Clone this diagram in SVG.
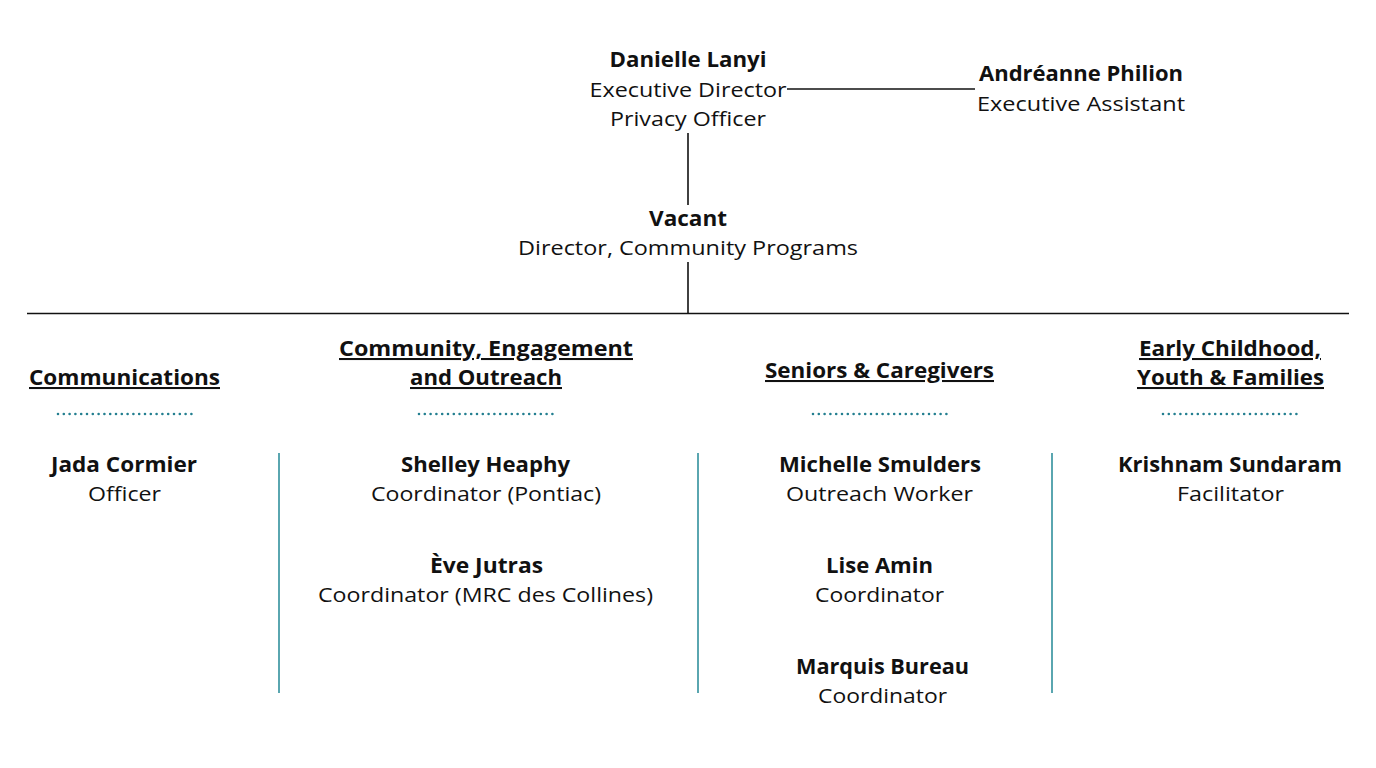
<svg xmlns="http://www.w3.org/2000/svg" width="1376" height="768" viewBox="0 0 1376 768">
<style>
text{font-family:"Open Sans","Noto Sans","Liberation Sans",sans-serif;font-size:20.5px;fill:#111;text-anchor:middle}
.b{font-weight:700}
.u{font-weight:700;text-decoration:underline}
.ln{stroke:#111;stroke-width:1.6;fill:none}
.dot{stroke:#237f90;stroke-width:2.6;stroke-linecap:round;stroke-dasharray:0 5.8;fill:none}
.sep{stroke:#5aa6b0;stroke-width:2;fill:none}
</style>
<rect width="1376" height="768" fill="#fff"/>
<g id="connectors">
<line class="ln" x1="787" y1="89" x2="975" y2="89"/>
<line class="ln" x1="688" y1="133" x2="688" y2="205"/>
<line class="ln" x1="688" y1="262" x2="688" y2="313"/>
<line class="ln" x1="27" y1="313.5" x2="1349" y2="313.5"/>
<line class="sep" x1="279" y1="453" x2="279" y2="693"/>
<line class="sep" x1="698" y1="453" x2="698" y2="693"/>
<line class="sep" x1="1052" y1="453" x2="1052" y2="693"/>
<line class="dot" x1="58" y1="414" x2="192" y2="414"/>
<line class="dot" x1="419" y1="414" x2="553" y2="414"/>
<line class="dot" x1="813" y1="414" x2="947" y2="414"/>
<line class="dot" x1="1163" y1="414" x2="1297" y2="414"/>
</g>
<g id="danielle">
<text class="b" x="688" y="67" textLength="157" lengthAdjust="spacingAndGlyphs">Danielle Lanyi</text>
<text x="688" y="97" textLength="197" lengthAdjust="spacingAndGlyphs">Executive Director</text>
<text x="688" y="126" textLength="156" lengthAdjust="spacingAndGlyphs">Privacy Officer</text>
</g>
<g id="andreanne">
<text class="b" x="1081" y="81" textLength="204" lengthAdjust="spacingAndGlyphs">Andréanne Philion</text>
<text x="1081" y="111" textLength="208" lengthAdjust="spacingAndGlyphs">Executive Assistant</text>
</g>
<g id="vacant">
<text class="b" x="688" y="226" textLength="78" lengthAdjust="spacingAndGlyphs">Vacant</text>
<text x="688" y="255" textLength="340" lengthAdjust="spacingAndGlyphs">Director, Community Programs</text>
</g>
<g id="communications">
<text class="u" x="124.5" y="385" textLength="191" lengthAdjust="spacingAndGlyphs">Communications</text>
</g>
<g id="jada">
<text class="b" x="124" y="472" textLength="146" lengthAdjust="spacingAndGlyphs">Jada Cormier</text>
<text x="124.5" y="501" textLength="73" lengthAdjust="spacingAndGlyphs">Officer</text>
</g>
<g id="community">
<text class="u" x="486" y="356" textLength="294" lengthAdjust="spacingAndGlyphs">Community, Engagement </text>
<text class="u" x="486" y="385" textLength="152" lengthAdjust="spacingAndGlyphs">and Outreach</text>
</g>
<g id="shelley">
<text class="b" x="485.5" y="472" textLength="169" lengthAdjust="spacingAndGlyphs">Shelley Heaphy</text>
<text x="486" y="501" textLength="230" lengthAdjust="spacingAndGlyphs">Coordinator (Pontiac)</text>
</g>
<g id="eve">
<text class="b" x="486.5" y="573" textLength="113" lengthAdjust="spacingAndGlyphs">Ève Jutras</text>
<text x="485.5" y="602" textLength="335" lengthAdjust="spacingAndGlyphs">Coordinator (MRC des Collines)</text>
</g>
<g id="seniors">
<text class="u" x="879.5" y="378" textLength="229" lengthAdjust="spacingAndGlyphs">Seniors &amp; Caregivers</text>
</g>
<g id="michelle">
<text class="b" x="880" y="472" textLength="202" lengthAdjust="spacingAndGlyphs">Michelle Smulders</text>
<text x="879.5" y="501" textLength="187" lengthAdjust="spacingAndGlyphs">Outreach Worker</text>
</g>
<g id="lise">
<text class="b" x="879.5" y="573" textLength="107" lengthAdjust="spacingAndGlyphs">Lise Amin</text>
<text x="879.5" y="602" textLength="129" lengthAdjust="spacingAndGlyphs">Coordinator</text>
</g>
<g id="marquis">
<text class="b" x="882.5" y="674" textLength="173" lengthAdjust="spacingAndGlyphs">Marquis Bureau</text>
<text x="882.5" y="703" textLength="129" lengthAdjust="spacingAndGlyphs">Coordinator</text>
</g>
<g id="early">
<text class="u" x="1230" y="356" textLength="182" lengthAdjust="spacingAndGlyphs">Early Childhood,</text>
<text class="u" x="1230.5" y="385" textLength="187" lengthAdjust="spacingAndGlyphs">Youth &amp; Families</text>
</g>
<g id="krishnam">
<text class="b" x="1230" y="472" textLength="224" lengthAdjust="spacingAndGlyphs">Krishnam Sundaram</text>
<text x="1230.5" y="501" textLength="107" lengthAdjust="spacingAndGlyphs">Facilitator</text>
</g>
</svg>
